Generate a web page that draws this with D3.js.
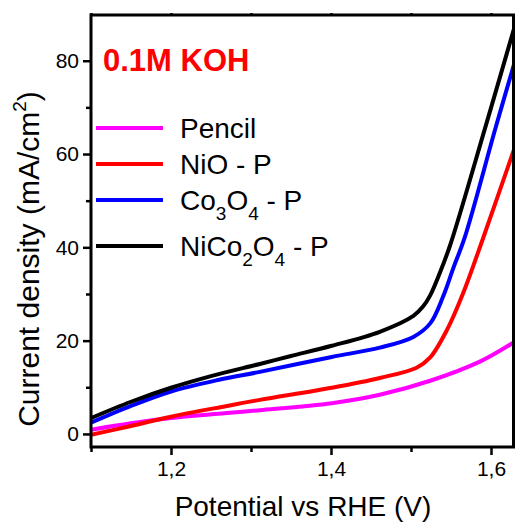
<!DOCTYPE html>
<html>
<head>
<meta charset="utf-8">
<script src="https://cdn.jsdelivr.net/npm/d3@7"></script>
<style>
  body { margin: 0; background: #fff; }
  svg { display: block; font-family: Arial, "Liberation Sans", sans-serif; }
</style>
</head>
<body>
<div id="chart"></div>
<script>
// data (potential in V, current density in mA/cm2)
const pencilX = [1.100, 1.15, 1.2, 1.27, 1.311, 1.401, 1.461, 1.524, 1.586, 1.63];
const pencilY = [0.9, 2.3, 3.4, 4.5, 5.1, 6.6, 8.4, 11.4, 15.5, 19.8];

const nioX = [1.100, 1.15, 1.2, 1.27, 1.311, 1.401, 1.461, 1.507, 1.524, 1.545, 1.565, 1.59, 1.63];
const nioY = [-0.2, 1.7, 3.7, 6.0, 7.3, 9.9, 12.0, 14.2, 16.4, 22.3, 30.1, 41.9, 61.6];

const coX = [1.100, 1.15, 1.2, 1.26, 1.311, 1.401, 1.461, 1.503, 1.524, 1.540, 1.553, 1.5675, 1.606, 1.631];
const coY = [2.4, 6.0, 9.1, 11.6, 13.3, 16.5, 18.5, 20.8, 23.7, 29.4, 35.6, 42.3, 65.8, 80.5];

const nicoX = [1.100, 1.15, 1.2, 1.25, 1.311, 1.35, 1.401, 1.461, 1.503, 1.515, 1.524, 1.536, 1.549, 1.5925, 1.63];
const nicoY = [3.4, 6.9, 9.9, 12.4, 15.0, 16.7, 18.9, 21.9, 25.3, 27.3, 29.7, 34.5, 40.5, 65.5, 87.6];

const seriesNames = ['Pencil', 'NiO - P', 'Co3O4 - P', 'NiCo2O4 - P'];
const seriesColors = ['#ff00ff', '#ff0000', '#0000ff', '#000000'];

const xTicks = [1.2, 1.4, 1.6];
const xMinor = [1.1, 1.3, 1.5];
const yTicks = [0, 20, 40, 60, 80];
const yMinor = [10, 30, 50, 70];

const width = 517, height = 527;
const margin = { top: 15, right: 2, bottom: 80, left: 91 };

const svg = d3.select('#chart').append('svg')
  .attr('width', width)
  .attr('height', height);

const x = d3.scaleLinear().domain([1.1, 1.63]).range([margin.left, width - margin.right]);
const y = d3.scaleLinear().domain([-2.8, 89.8]).range([height - margin.bottom, margin.top]);

const series = [
  d3.zip(pencilX, pencilY),
  d3.zip(nioX, nioY),
  d3.zip(coX, coY),
  d3.zip(nicoX, nicoY)
];

// clip so the curves stop at the frame
svg.append('clipPath').attr('id', 'clip')
  .append('rect')
  .attr('x', margin.left).attr('y', margin.top)
  .attr('width', width - margin.left - margin.right)
  .attr('height', height - margin.top - margin.bottom);

const line = d3.line()
  .x(d => x(d[0]))
  .y(d => y(d[1]))
  .curve(d3.curveCatmullRom.alpha(0.5));

svg.append('g')
  .attr('clip-path', 'url(#clip)')
  .selectAll('path')
  .data(series)
  .enter()
  .append('path')
  .attr('d', line)
  .attr('fill', 'none')
  .attr('stroke', (d, i) => seriesColors[i])
  .attr('stroke-width', 4)
  .attr('stroke-linejoin', 'round');

// axes
const fmt = d => d3.format('.1f')(d).replace('.', ',');

const xAxis = svg.append('g')
  .attr('transform', `translate(0,${height - margin.bottom})`)
  .call(d3.axisBottom(x).tickValues(xTicks).tickFormat(fmt).tickSize(8).tickPadding(6));
const xAxisMinor = svg.append('g')
  .attr('transform', `translate(0,${height - margin.bottom})`)
  .call(d3.axisBottom(x).tickValues(xMinor).tickFormat('').tickSize(5));

const yAxis = svg.append('g')
  .attr('transform', `translate(${margin.left},0)`)
  .call(d3.axisLeft(y).tickValues(yTicks).tickSize(8).tickPadding(4));
const yAxisMinor = svg.append('g')
  .attr('transform', `translate(${margin.left},0)`)
  .call(d3.axisLeft(y).tickValues(yMinor).tickFormat('').tickSize(5));

const xTop = svg.append('g')
  .attr('transform', `translate(0,${margin.top})`)
  .call(d3.axisTop(x).tickValues(xTicks.concat(xMinor)).tickFormat('').tickSize(2));

[xAxis, xAxisMinor, yAxis, yAxisMinor, xTop].forEach(g => {
  g.select('.domain').remove();
  g.selectAll('.tick line').attr('stroke', '#000').attr('stroke-width', 2.5);
  g.selectAll('.tick text').attr('font-size', 21).attr('fill', '#000')
    .attr('font-family', 'Arial, "Liberation Sans", sans-serif');
});

// frame
svg.append('rect')
  .attr('x', margin.left).attr('y', margin.top)
  .attr('width', width - margin.left - margin.right - 1.5)
  .attr('height', height - margin.top - margin.bottom)
  .attr('fill', 'none')
  .attr('stroke', '#000')
  .attr('stroke-width', 3);

// axis titles
svg.append('text')
  .attr('x', (margin.left + width - margin.right) / 2)
  .attr('y', 516)
  .attr('text-anchor', 'middle')
  .attr('font-size', 28)
  .text('Potential vs RHE (V)');

const yLab = svg.append('text')
  .attr('transform', 'translate(39,259) rotate(-90)')
  .attr('text-anchor', 'middle')
  .attr('font-size', 30);
yLab.append('tspan').text('Current density (mA/cm');
yLab.append('tspan').attr('font-size', 19).attr('dy', -13).text('2');
yLab.append('tspan').attr('dy', 13).text(')');

// title
svg.append('text')
  .attr('x', 103).attr('y', 71)
  .attr('font-size', 31)
  .attr('font-weight', 'bold')
  .attr('fill', '#ff0000')
  .text('0.1M KOH');

// legend
const legendY = [128, 164, 200, 246];
const legendParts = [
  [['Pencil', 0]],
  [['NiO - P', 0]],
  [['Co', 0], ['3', 1], ['O', 0], ['4', 1], [' - P', 0]],
  [['NiCo', 0], ['2', 1], ['O', 0], ['4', 1], [' - P', 0]]
];

const legend = svg.append('g')
  .selectAll('.legend')
  .data(seriesNames)
  .enter()
  .append('g')
  .attr('class', 'legend')
  .attr('transform', (d, i) => `translate(0,${legendY[i]})`);

legend.append('line')
  .attr('x1', 96).attr('x2', 163)
  .attr('stroke', (d, i) => seriesColors[i])
  .attr('stroke-width', 4);

legend.append('text')
  .attr('x', 180).attr('y', 10)
  .attr('font-size', 28)
  .each(function (d, i) {
    const t = d3.select(this);
    let shifted = false;
    legendParts[i].forEach(([s, sub]) => {
      const ts = t.append('tspan').text(s);
      if (sub && !shifted) { ts.attr('dy', 10).attr('font-size', 19); shifted = true; }
      else if (sub) { ts.attr('font-size', 19).attr('dy', 0); }
      else if (shifted) { ts.attr('dy', -10); shifted = false; }
    });
  });
</script>
</body>
</html>
